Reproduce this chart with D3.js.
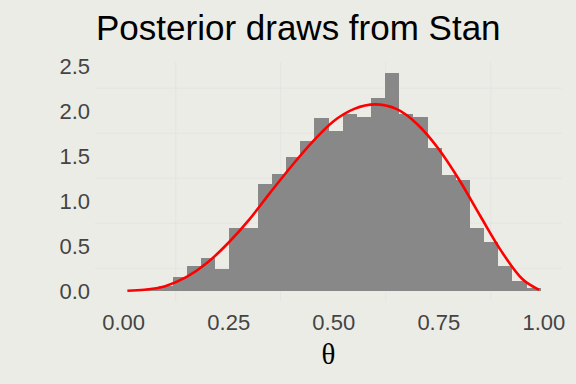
<!DOCTYPE html>
<html>
<head>
<meta charset="utf-8">
<script src="https://cdn.jsdelivr.net/npm/d3@7"></script>
<style>
  body { margin: 0; background: #ecece6; }
  svg { display: block; }
</style>
</head>
<body>
<svg id="chart" width="576" height="384"></svg>
<script>
// histogram of posterior draws (density scale), 30 bins
const binStart = -0.0165;
const binWidth = 0.03368;
const density = [0, 0, 0.015, 0.05, 0.15, 0.27, 0.36, 0.24, 0.70, 0.70,
  1.19, 1.30, 1.48, 1.66, 1.92, 1.77, 1.96, 1.93, 2.14, 2.42,
  1.96, 1.93, 1.59, 1.29, 1.23, 0.70, 0.54, 0.27, 0.11, 0.025];

// red density curve
const curveX = [0.01, 0.05, 0.10, 0.15, 0.20, 0.25, 0.30, 0.35, 0.40, 0.45, 0.50,
  0.55, 0.60, 0.65, 0.70, 0.75, 0.80, 0.85, 0.90, 0.95, 0.99];
const curveY = [0.00, 0.01, 0.05, 0.15, 0.31, 0.53, 0.79, 1.09, 1.38, 1.65, 1.88,
  2.02, 2.07, 2.02, 1.85, 1.58, 1.23, 0.83, 0.44, 0.13, 0.01];

const xTicks = [0, 0.25, 0.5, 0.75, 1];
const yTicks = [0, 0.5, 1, 1.5, 2, 2.5];
const xGrid = [0.125, 0.375, 0.625, 0.875];
const yGrid = [0.25, 0.75, 1.25, 1.75, 2.25];

const svg = d3.select('#chart');
const panel = { left: 95, right: 562, top: 62, bottom: 301.6 };

let xMin = binStart;
let xMax = binStart + density.length * binWidth;
let xPad = (xMax - xMin) * 0.05;
const x = d3.scaleLinear()
  .domain([xMin - xPad, xMax + xPad])
  .range([panel.left, panel.right]);

let yMax = d3.max(density);
const y = d3.scaleLinear()
  .domain([-yMax * 0.05, yMax * 1.05])
  .range([panel.bottom, panel.top]);

svg.append('rect')
  .attr('width', 576).attr('height', 384)
  .attr('fill', '#ecece6');

// grid
const grid = svg.append('g').attr('stroke', '#e4e4e4').attr('stroke-width', 1.1);
grid.selectAll('.vg').data(xGrid).enter().append('line')
  .attr('x1', d => x(d)).attr('x2', d => x(d))
  .attr('y1', panel.top).attr('y2', panel.bottom);
grid.selectAll('.hg').data(yGrid).enter().append('line')
  .attr('x1', panel.left).attr('x2', panel.right)
  .attr('y1', d => y(d)).attr('y2', d => y(d));

// bars
svg.append('g').selectAll('rect').data(density).enter().append('rect')
  .attr('x', (d, i) => x(binStart + i * binWidth))
  .attr('width', x(binWidth) - x(0))
  .attr('y', d => y(d))
  .attr('height', d => y(0) - y(d))
  .attr('fill', '#888888')
  .attr('shape-rendering', 'crispEdges');

// density line
const line = d3.line()
  .x(d => x(d[0]))
  .y(d => y(d[1]))
  .curve(d3.curveMonotoneX);
svg.append('path')
  .datum(d3.zip(curveX, curveY))
  .attr('d', line)
  .attr('fill', 'none')
  .attr('stroke', '#ff0000')
  .attr('stroke-width', 2.6);

// axes (labels only, no lines)
const xAxis = svg.append('g')
  .attr('transform', `translate(0,${panel.bottom + 3})`)
  .call(d3.axisBottom(x).tickValues(xTicks).tickFormat(d3.format('.2f')).tickSize(0).tickPadding(10));
const yAxis = svg.append('g')
  .attr('transform', `translate(${panel.left - 4},0.5)`)
  .call(d3.axisLeft(y).tickValues(yTicks).tickFormat(d3.format('.1f')).tickSize(0).tickPadding(1));
[xAxis, yAxis].forEach(a => {
  a.select('.domain').remove();
  a.selectAll('text')
    .attr('fill', '#444444')
    .style('font-family', '"Liberation Sans", Arial, sans-serif')
    .style('font-size', '22px');
});

svg.append('text')
  .attr('x', 96).attr('y', 40)
  .attr('fill', '#000')
  .style('font-family', '"Liberation Sans", Arial, sans-serif')
  .style('font-size', '35px')
  .text('Posterior draws from Stan');

svg.append('text')
  .attr('x', (panel.left + panel.right) / 2).attr('y', 364)
  .attr('text-anchor', 'middle')
  .attr('fill', '#000')
  .style('font-family', '"Liberation Serif", "Times New Roman", serif')
  .style('font-size', '29px')
  .text('θ');
</script>
</body>
</html>
